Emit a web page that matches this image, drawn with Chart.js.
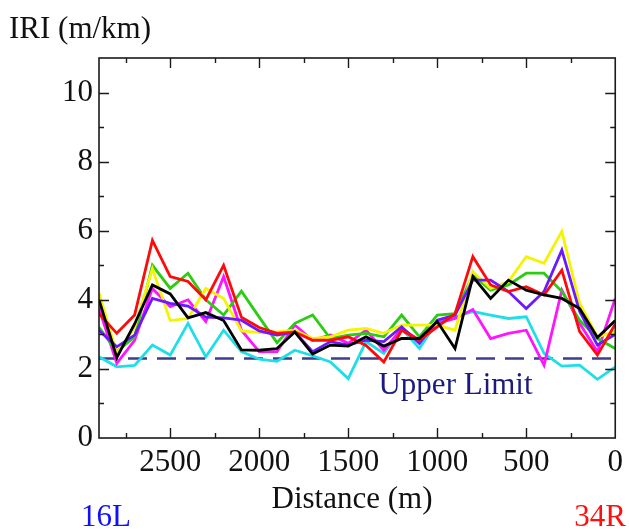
<!DOCTYPE html>
<html>
<head>
<meta charset="utf-8">
<script src="https://cdn.jsdelivr.net/npm/chart.js@4.4.1/dist/chart.umd.min.js"></script>
<style>
  html, body { margin: 0; padding: 0; background: #ffffff; }
  #wrap { width: 629px; height: 532px; }
</style>
</head>
<body>
<div id="wrap"><canvas id="iri" width="629" height="532"></canvas></div>
<script>
// Distance along the runway (m), from the 16L end to the 34R end
const distance = [2900, 2800, 2700, 2600, 2500, 2400, 2300, 2200, 2100, 2000,
                  1900, 1800, 1700, 1600, 1500, 1400, 1300, 1200, 1100, 1000,
                  900, 800, 700, 600, 500, 400, 300, 200, 100, 0];

// IRI profiles (m/km), one per survey line
const iriBlack   = [4.0, 2.33, 3.3, 4.43, 4.17, 3.48, 3.63, 3.4, 2.55, 2.54,
                    2.59, 3.07, 2.43, 2.69, 2.66, 2.93, 2.66, 2.88, 2.88, 3.37,
                    2.59, 4.67, 4.04, 4.57, 4.28, 4.14, 4.04, 3.75, 2.91, 3.4];
const iriRed     = [3.6, 3.03, 3.56, 5.72, 4.67, 4.53, 4.0, 5.0, 3.5, 3.2,
                    3.03, 3.07, 2.83, 2.83, 2.93, 2.68, 2.2, 3.12, 2.83, 3.22,
                    3.6, 5.25, 4.43, 4.24, 4.38, 4.14, 4.86, 3.08, 2.4, 3.3];
const iriGreen   = [3.2, 2.5, 2.93, 5.0, 4.33, 4.77, 4.0, 3.56, 4.25, 3.5,
                    2.76, 3.32, 3.56, 2.88, 2.98, 3.03, 2.93, 3.56, 2.93, 3.56,
                    3.6, 4.72, 4.28, 4.43, 4.77, 4.77, 4.24, 3.41, 2.88, 2.59];
const iriYellow  = [4.2, 2.45, 3.2, 4.9, 3.4, 3.46, 4.33, 4.04, 3.1, 3.05,
                    3.07, 3.12, 2.88, 2.93, 3.12, 3.17, 3.03, 3.27, 3.27, 3.27,
                    3.12, 4.82, 4.33, 4.53, 5.25, 5.06, 5.98, 3.9, 2.93, 3.08];
const iriMagenta = [3.75, 2.16, 2.83, 4.33, 3.8, 4.0, 3.37, 4.67, 3.12, 2.5,
                    2.5, 3.27, 2.83, 2.98, 2.74, 3.12, 2.54, 3.17, 2.83, 3.32,
                    3.46, 3.72, 2.88, 3.03, 3.12, 2.11, 4.28, 3.32, 2.5, 4.04];
const iriPurple  = [3.12, 2.64, 2.98, 4.04, 3.9, 3.82, 3.5, 3.48, 3.41, 3.1,
                    2.98, 3.07, 2.5, 2.79, 2.69, 2.83, 2.79, 3.22, 2.74, 3.41,
                    3.56, 4.57, 4.57, 4.24, 3.75, 4.24, 5.44, 3.66, 2.69, 3.0];
const iriCyan    = [2.35, 2.06, 2.1, 2.69, 2.4, 3.32, 2.35, 3.12, 2.5, 2.28,
                    2.22, 2.54, 2.38, 2.2, 1.72, 2.79, 2.45, 3.17, 2.59, 3.37,
                    3.51, 3.66, 3.56, 3.46, 3.51, 2.45, 2.08, 2.11, 1.7, 2.06];

// Allowable IRI threshold (m/km)
const upperLimit = 2.3;

// Axis tick labels
const xTickLabels = [2500, 2000, 1500, 1000, 500, 0];
const yTickLabels = [0, 2, 4, 6, 8, 10];

const SERIF = '"Liberation Serif", "DejaVu Serif", serif';

function toPoints(values) {
  return values.map((v, i) => ({ x: distance[i], y: v }));
}

function series(values, color) {
  return {
    data: toPoints(values),
    borderColor: color,
    backgroundColor: color,
    borderWidth: 2.8,
    pointRadius: 0,
    tension: 0,
    fill: false
  };
}

const limitLine = {
  data: [{ x: distance[0], y: upperLimit }, { x: distance[distance.length - 1], y: upperLimit }],
  borderColor: '#3d3d8f',
  borderWidth: 2.4,
  borderDash: [19, 10],
  pointRadius: 0,
  fill: false
};

// Frame, inward tick marks and free-standing labels
const decorations = {
  id: 'decorations',
  afterDatasetsDraw(chart) {
    const { ctx, chartArea: a, scales: { x, y } } = chart;
    ctx.save();
    ctx.strokeStyle = '#1a1a1a';
    ctx.lineWidth = 1.6;
    ctx.strokeRect(a.left, a.top, a.right - a.left, a.bottom - a.top);
    ctx.lineWidth = 1.4;
    ctx.beginPath();
    for (let v = 250; v < 2900; v += 250) {
      const px = Math.round(x.getPixelForValue(v)) + 0.5;
      const len = v % 500 === 0 ? 10 : 5;
      ctx.moveTo(px, a.bottom); ctx.lineTo(px, a.bottom - len);
      ctx.moveTo(px, a.top); ctx.lineTo(px, a.top + len);
    }
    for (let v = 1; v < 11; v++) {
      const py = Math.round(y.getPixelForValue(v)) + 0.5;
      const len = v % 2 === 0 ? 10 : 5;
      ctx.moveTo(a.left, py); ctx.lineTo(a.left + len, py);
      ctx.moveTo(a.right, py); ctx.lineTo(a.right - len, py);
    }
    ctx.stroke();

    ctx.font = '31px ' + SERIF;
    ctx.textBaseline = 'middle';
    ctx.fillStyle = '#1a1a80';
    ctx.textAlign = 'left';
    ctx.fillText('Upper Limit', x.getPixelForValue(1330), y.getPixelForValue(1.5));
    ctx.restore();
  },
  afterDraw(chart) {
    const { ctx } = chart;
    ctx.save();
    ctx.font = '31px ' + SERIF;
    ctx.textBaseline = 'middle';
    ctx.fillStyle = '#111111';
    ctx.textAlign = 'left';
    ctx.fillText('IRI (m/km)', 9, 30);
    ctx.textAlign = 'center';
    ctx.fillText('Distance (m)', 352, 500);
    ctx.fillStyle = '#1010ff';
    ctx.textAlign = 'left';
    ctx.fillText('16L', 81, 518);
    ctx.fillStyle = '#ff1010';
    ctx.textAlign = 'right';
    ctx.fillText('34R', 626, 518);
    ctx.restore();
  }
};

new Chart(document.getElementById('iri'), {
  type: 'line',
  data: {
    datasets: [
      series(iriBlack, '#000000'),
      series(iriRed, '#ff0a0a'),
      series(iriPurple, '#6a1aff'),
      series(iriYellow, '#f4f400'),
      series(iriGreen, '#2ccc12'),
      series(iriMagenta, '#ff14ff'),
      series(iriCyan, '#1fdfe6'),
      limitLine
    ]
  },
  options: {
    responsive: false,
    animation: false,
    events: [],
    layout: { padding: { left: 0, top: 58, right: 10, bottom: 0 } },
    plugins: { legend: { display: false }, tooltip: { enabled: false }, title: { display: false } },
    scales: {
      x: {
        type: 'linear',
        reverse: true,
        min: 0,
        max: 2900,
        afterBuildTicks: (s) => { s.ticks = xTickLabels.map(v => ({ value: v })); },
        afterFit: (s) => { s.height = 94; },
        grid: { display: false, drawTicks: false },
        border: { display: false },
        ticks: {
          padding: 6,
          maxRotation: 0,
          autoSkip: false,
          color: '#111111',
          font: { family: SERIF, size: 31 },
          callback: (v) => String(v)
        }
      },
      y: {
        type: 'linear',
        min: 0,
        max: 11,
        afterBuildTicks: (s) => { s.ticks = yTickLabels.map(v => ({ value: v })); },
        afterFit: (s) => { s.width = 99; },
        grid: { display: false, drawTicks: false },
        border: { display: false },
        ticks: {
          padding: 6,
          autoSkip: false,
          color: '#111111',
          font: { family: SERIF, size: 31 },
          callback: (v) => String(v)
        }
      }
    }
  },
  plugins: [decorations]
});
</script>
</body>
</html>
